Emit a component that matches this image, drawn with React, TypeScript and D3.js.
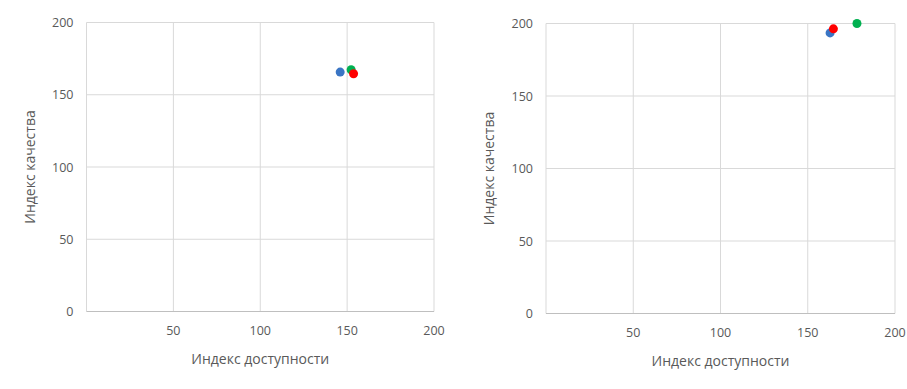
import React, { useEffect, useRef } from 'react'
import * as d3 from 'd3'

// левая диаграмма
const leftX = [146, 152.3, 153.7]
const leftY = [165.7, 167.3, 164.5]
// правая диаграмма
const rightX = [162.8, 178.2, 164.7]
const rightY = [193.5, 200, 196.3]
const pointColors = ['#3a75c4', '#00b050', '#ff0000']
const xTicks = [50, 100, 150, 200]
const yTicks = [0, 50, 100, 150, 200]
const xTitle = 'Индекс доступности'
const yTitle = 'Индекс качества'

const W = 907
const H = 389

function drawChart(svg: any, box: any, xs: number[], ys: number[]) {
  const x = d3.scaleLinear().domain([0, 200]).range([box.left, box.right])
  const y = d3.scaleLinear().domain([0, 200]).range([box.bottom, box.top])
  const g = svg.append('g')

  // сетка
  g.selectAll('line.vg')
    .data(xTicks)
    .enter()
    .append('line')
    .attr('x1', d => x(d))
    .attr('x2', d => x(d))
    .attr('y1', box.top)
    .attr('y2', box.bottom)
    .attr('stroke', '#d9d9d9')
    .attr('stroke-width', 1)
  g.selectAll('line.hg')
    .data(yTicks.filter(d => d > 0))
    .enter()
    .append('line')
    .attr('x1', box.left)
    .attr('x2', box.right)
    .attr('y1', d => y(d))
    .attr('y2', d => y(d))
    .attr('stroke', '#d9d9d9')
    .attr('stroke-width', 1)
  // ось Y (левая линия)
  g.append('line')
    .attr('x1', box.left).attr('x2', box.left)
    .attr('y1', box.top).attr('y2', box.bottom)
    .attr('stroke', '#d9d9d9')
  // ось X
  g.append('line')
    .attr('x1', box.left).attr('x2', box.right)
    .attr('y1', box.bottom).attr('y2', box.bottom)
    .attr('stroke', '#bfbfbf')

  // подписи делений
  g.selectAll('text.xt')
    .data(xTicks)
    .enter()
    .append('text')
    .attr('x', d => x(d))
    .attr('y', box.bottom + 23)
    .attr('text-anchor', 'middle')
    .attr('font-size', 12.5)
    .attr('fill', '#595959')
    .text(d => d)
  g.selectAll('text.yt')
    .data(yTicks)
    .enter()
    .append('text')
    .attr('x', box.left - 13)
    .attr('y', d => y(d) + 4.5)
    .attr('text-anchor', 'end')
    .attr('font-size', 12.5)
    .attr('fill', '#595959')
    .text(d => d)

  // названия осей
  g.append('text')
    .attr('x', (box.left + box.right) / 2)
    .attr('y', box.bottom + 52)
    .attr('text-anchor', 'middle')
    .attr('font-size', 14)
    .attr('fill', '#595959')
    .text(xTitle)
  g.append('text')
    .attr('transform', 'translate(' + (box.left - 52) + ',' + (box.top + box.bottom) / 2 + ') rotate(-90)')
    .attr('text-anchor', 'middle')
    .attr('font-size', 14)
    .attr('fill', '#595959')
    .text(yTitle)

  // точки
  g.selectAll('circle')
    .data(xs)
    .enter()
    .append('circle')
    .attr('cx', (d, i) => x(d))
    .attr('cy', (d, i) => y(ys[i]))
    .attr('r', 4.5)
    .attr('fill', (d, i) => pointColors[i])
}

export default function App() {
  const ref = useRef<SVGSVGElement>(null)
  useEffect(() => {
    const svg = d3.select(ref.current)
    svg.selectAll('*').remove()
    svg.append('rect').attr('width', W).attr('height', H).attr('fill', '#fff')
    drawChart(svg, { left: 86.5, right: 434, top: 22.5, bottom: 311.5 }, leftX, leftY)
    drawChart(svg, { left: 546, right: 895, top: 23.5, bottom: 313.5 }, rightX, rightY)
  }, [])
  return (
    <svg
      ref={ref}
      width={W}
      height={H}
      style={{ position: 'absolute', left: 0, top: 0, fontFamily: 'Open Sans, sans-serif' }}
    />
  )
}
